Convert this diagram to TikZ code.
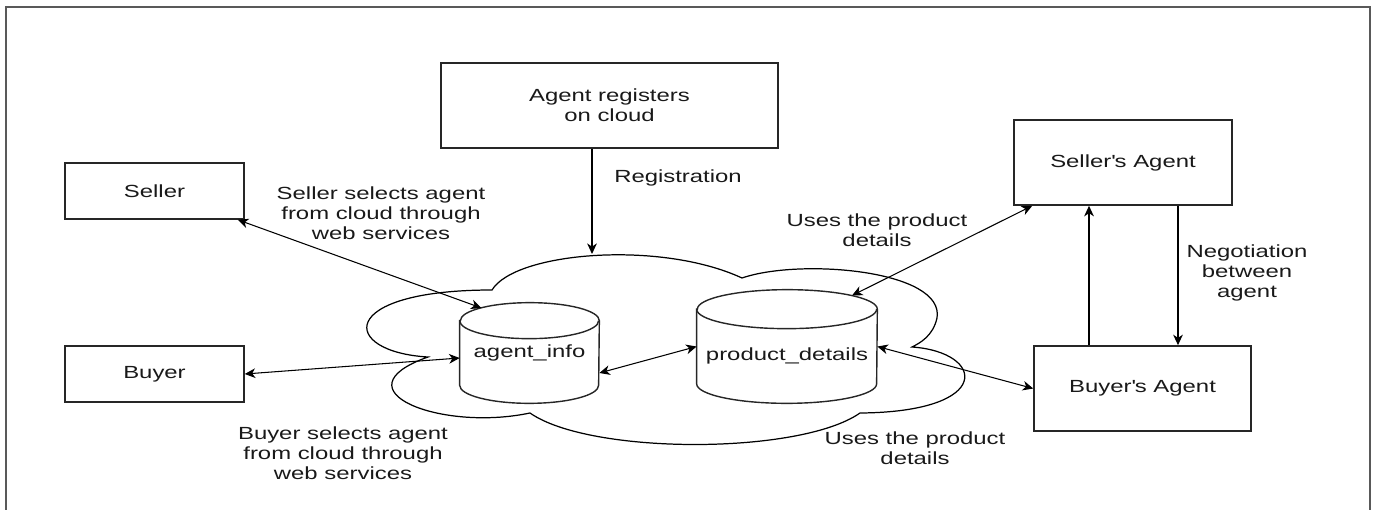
\documentclass[tikz,border=0pt]{standalone}
\usepackage{fontspec}
\setmainfont{Liberation Sans}[FakeStretch=1.36]
\usepackage{tikz}
\usetikzlibrary{positioning,arrows.meta,calc}
% database drum around a node: node, half width, cap radius
\newcommand{\dbcyl}[3]{%
  \draw[dbline] ([yshift=-#3]#1.north west) -- ([yshift=#3]#1.south west)
    arc[start angle=180, end angle=360, x radius=#2, y radius=#3]
    -- ([yshift=-#3]#1.north east)
    arc[start angle=0, end angle=180, x radius=#2, y radius=#3] -- cycle;
  \draw[dbline] ([yshift=-#3]#1.north west)
    arc[start angle=180, end angle=360, x radius=#2, y radius=#3];}

\begin{document}
\begin{tikzpicture}[x=0.02cm, y=-0.02cm,
  box/.style={draw=black!85, line width=0.9pt, minimum width=#1, align=center,
              font=\fontsize{10}{11.4}\selectfont, text=black!90},
  box/.default=4.36cm,
  dbbox/.style={inner sep=0pt, minimum width=#1},
  dbline/.style={draw=black!85, line width=0.8pt},
  arr/.style={-{Stealth[length=6pt,width=5.5pt,inset=1.8pt]}, line width=0.7pt},
  biarr/.style={{Stealth[length=6pt,width=5.5pt,inset=1.8pt]}-{Stealth[length=6pt,width=5.5pt,inset=1.8pt]}, line width=0.6pt},
  lbl/.style={align=center, font=\fontsize{10}{11.4}\selectfont, text=black!90, inner sep=0pt}
]
  \useasboundingbox (0,0) rectangle (1376,510);
  % page frame (open at the bottom)
  \draw[gray!70!black, line width=1.1pt] (6,520) -- (6,7) -- (1370,7) -- (1370,520);

  % cloud
  \draw[line width=0.7pt] (492,290)
    .. controls (515,252) and (660,240) .. (742,278)
    .. controls (800,258) and (945,270) .. (937,318)
    .. controls (933,336) and (920,343) .. (912,347)
    .. controls (985,352) and (995,412) .. (860,413)
    .. controls (800,455) and (590,455) .. (530,413)
    .. controls (440,432) and (335,390) .. (428,357)
    .. controls (340,352) and (335,290) .. cycle;
  \coordinate (cloudtop) at (592,254);

  % boxes
  \node[box=3.58cm, minimum height=1.12cm] (seller) at (154.5,191) {Seller};
  \node[box=3.58cm, minimum height=1.12cm] (buyer)  at (154.5,374) {Buyer};
  \node[box=6.74cm, minimum height=1.7cm]  (reg)    at (609.5,105.5) {Agent registers\\on cloud};
  \node[box=4.36cm, minimum height=1.7cm]  (sagent) at (1123,162.5) {Seller\textquotesingle s Agent};
  \node[box=4.34cm, minimum height=1.7cm]  (bagent) at (1142.5,388.5) {Buyer\textquotesingle s Agent};

  % databases inside the cloud
  \node[dbbox=2.78cm, minimum height=2.0cm]  (ainfo)    at (529.5,353) {};
  \node[dbbox=3.6cm,  minimum height=2.26cm] (pdetails) at (787,346.5) {};
  \dbcyl{ainfo}{1.39cm}{0.36cm}
  \dbcyl{pdetails}{1.8cm}{0.39cm}
  \node[lbl] (ainfo-t)    at (529.5,353) {agent\_info};
  \node[lbl] (pdetails-t) at (787,356)   {product\_details};

  % connectors
  \draw[arr] ([xshift=-0.35cm]reg.south) -- ([xshift=-0.35cm]reg.south |- cloudtop);
  \draw[biarr] ([xshift=-0.14cm]seller.south east) -- ($(ainfo.center)+(-48,-45)$);
  \draw[biarr] (buyer.east) -- ([yshift=-0.1cm]ainfo.west);
  \draw[biarr] ([yshift=-0.4cm]ainfo.east) -- (pdetails.west);
  \draw[biarr] ([xshift=0.38cm]sagent.south west) -- ($(pdetails.center)+(65,-51)$);
  \draw[biarr] (pdetails.east) -- (bagent.west);
  \draw[arr, line width=0.9pt] ([xshift=-1.07cm]bagent.north) -- ([xshift=-1.07cm]bagent.north |- sagent.south);
  \draw[arr, line width=0.9pt] ([xshift=1.1cm]sagent.south) -- ([xshift=1.1cm]sagent.south |- bagent.north);

  % labels
  \node[lbl] (lreg)  at (678,178) {Registration};
  \node[lbl] (lsel)  at (381,213) {Seller selects agent\\from cloud through\\web services};
  \node[lbl] (lbuy)  at (343,453) {Buyer selects agent\\from cloud through\\web services};
  \node[lbl] (luse1) at (877,230) {Uses the product\\details};
  \node[lbl] (luse2) at (915,448) {Uses the product\\details};
  \node[lbl] (lneg)  at (1247,273) {Negotiation\\between\\agent};
\end{tikzpicture}
\end{document}
